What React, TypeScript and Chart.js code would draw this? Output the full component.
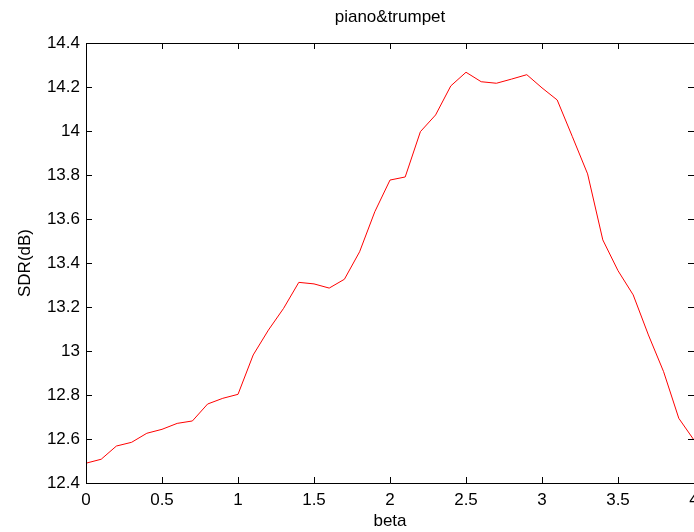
import React, { useEffect, useRef } from "react";
import { Chart, registerables } from "chart.js";

Chart.register(...registerables);

const betaValues: number[] = [
  0, 0.1, 0.2, 0.3, 0.4, 0.5, 0.6, 0.7, 0.8, 0.9,
  1.0, 1.1, 1.2, 1.3, 1.4, 1.5, 1.6, 1.7, 1.8, 1.9,
  2.0, 2.1, 2.2, 2.3, 2.4, 2.5, 2.6, 2.7, 2.8, 2.9,
  3.0, 3.1, 3.2, 3.3, 3.4, 3.5, 3.6, 3.7, 3.8, 3.9, 4.0,
];

const sdrValues: number[] = [
  12.49, 12.508, 12.568, 12.585, 12.626, 12.644, 12.671, 12.682, 12.759, 12.785,
  12.803, 12.982, 13.095, 13.194, 13.312, 13.305, 13.286, 13.326, 13.451, 13.633,
  13.777, 13.791, 13.997, 14.073, 14.205, 14.267, 14.224, 14.217, 14.236, 14.256,
  14.196, 14.141, 13.974, 13.805, 13.505, 13.365, 13.255, 13.073, 12.906, 12.694, 12.595,
];

const chartTitle = "piano&trumpet";
const xAxisTitle = "beta";
const yAxisTitle = "SDR(dB)";

const FONT = "'Liberation Sans', Arial, Helvetica, sans-serif";
const FSIZE = 17;

const fmt = (v: number | string) => String(parseFloat(Number(v).toFixed(1)));

const boxPlugin = {
  id: "matlabBox",
  afterDraw(chart: any) {
    const { ctx, chartArea } = chart;
    const xs = chart.scales.x;
    const ys = chart.scales.y;
    const { left, right, top, bottom } = chartArea;
    const tl = 6;
    ctx.save();
    ctx.strokeStyle = "#000";
    ctx.lineWidth = 1;
    ctx.beginPath();
    ctx.moveTo(right, top + 0.5);
    ctx.lineTo(left + 0.5, top + 0.5);
    ctx.lineTo(left + 0.5, bottom + 0.5);
    ctx.lineTo(right, bottom + 0.5);
    xs.ticks.forEach((t: any) => {
      const px = Math.round(xs.getPixelForValue(t.value)) + 0.5;
      ctx.moveTo(px, bottom);
      ctx.lineTo(px, bottom - tl);
      ctx.moveTo(px, top);
      ctx.lineTo(px, top + tl);
    });
    ys.ticks.forEach((t: any) => {
      const py = Math.round(ys.getPixelForValue(t.value)) + 0.5;
      ctx.moveTo(left, py);
      ctx.lineTo(left + tl, py);
      ctx.moveTo(right, py);
      ctx.lineTo(right - tl, py);
    });
    ctx.stroke();
    ctx.fillStyle = "#000";
    ctx.font = `${FSIZE}px ${FONT}`;
    ctx.textAlign = "center";
    ctx.textBaseline = "middle";
    ctx.fillText(chartTitle, (left + right) / 2, 17);
    ctx.restore();
  },
};

export default function App() {
  const canvasRef = useRef<HTMLCanvasElement | null>(null);

  useEffect(() => {
    document.body.style.margin = "0";
    const canvas = canvasRef.current;
    if (!canvas) return;
    const chart = new Chart(canvas, {
      type: "line",
      data: {
        datasets: [
          {
            data: betaValues.map((b, i) => ({ x: b, y: sdrValues[i] })),
            borderColor: "#ff0000",
            borderWidth: 1,
            pointRadius: 0,
            fill: false,
            tension: 0,
          },
        ],
      },
      options: {
        animation: false,
        responsive: false,
        maintainAspectRatio: false,
        devicePixelRatio: 1,
        layout: { padding: { top: 43, left: 0, right: 0, bottom: 0 }, autoPadding: false },
        plugins: {
          legend: { display: false },
          tooltip: { enabled: false },
          title: { display: false },
        },
        scales: {
          x: {
            type: "linear",
            min: 0,
            max: 4,
            afterFit: (s: any) => {
              s.height = 49;
              s.paddingLeft = 0;
              s.paddingRight = 0;
            },
            grid: { display: false, drawTicks: false },
            border: { display: false },
            ticks: {
              stepSize: 0.5,
              padding: 7,
              color: "#000",
              font: { family: FONT, size: FSIZE },
              maxRotation: 0,
              autoSkip: false,
              callback: (v: any) => fmt(v),
            },
            title: {
              display: true,
              text: xAxisTitle,
              color: "#000",
              font: { family: FONT, size: FSIZE },
              padding: { top: 0, bottom: 0 },
            },
          },
          y: {
            type: "linear",
            min: 12.4,
            max: 14.4,
            afterFit: (s: any) => {
              s.width = 86;
              s.paddingTop = 0;
              s.paddingBottom = 0;
            },
            grid: { display: false, drawTicks: false },
            border: { display: false },
            ticks: {
              stepSize: 0.2,
              padding: 6,
              color: "#000",
              font: { family: FONT, size: FSIZE },
              autoSkip: false,
              callback: (v: any) => fmt(v),
            },
            title: {
              display: true,
              text: yAxisTitle,
              color: "#000",
              font: { family: FONT, size: FSIZE },
              padding: { top: 15, bottom: 0 },
            },
          },
        },
      },
      plugins: [boxPlugin],
    });
    return () => chart.destroy();
  }, []);

  return (
    <div style={{ position: "fixed", left: 0, top: 0, width: 694, height: 532, background: "#fff" }}>
      <canvas ref={canvasRef} width={694} height={532} style={{ width: 694, height: 532, display: "block" }} />
    </div>
  );
}
